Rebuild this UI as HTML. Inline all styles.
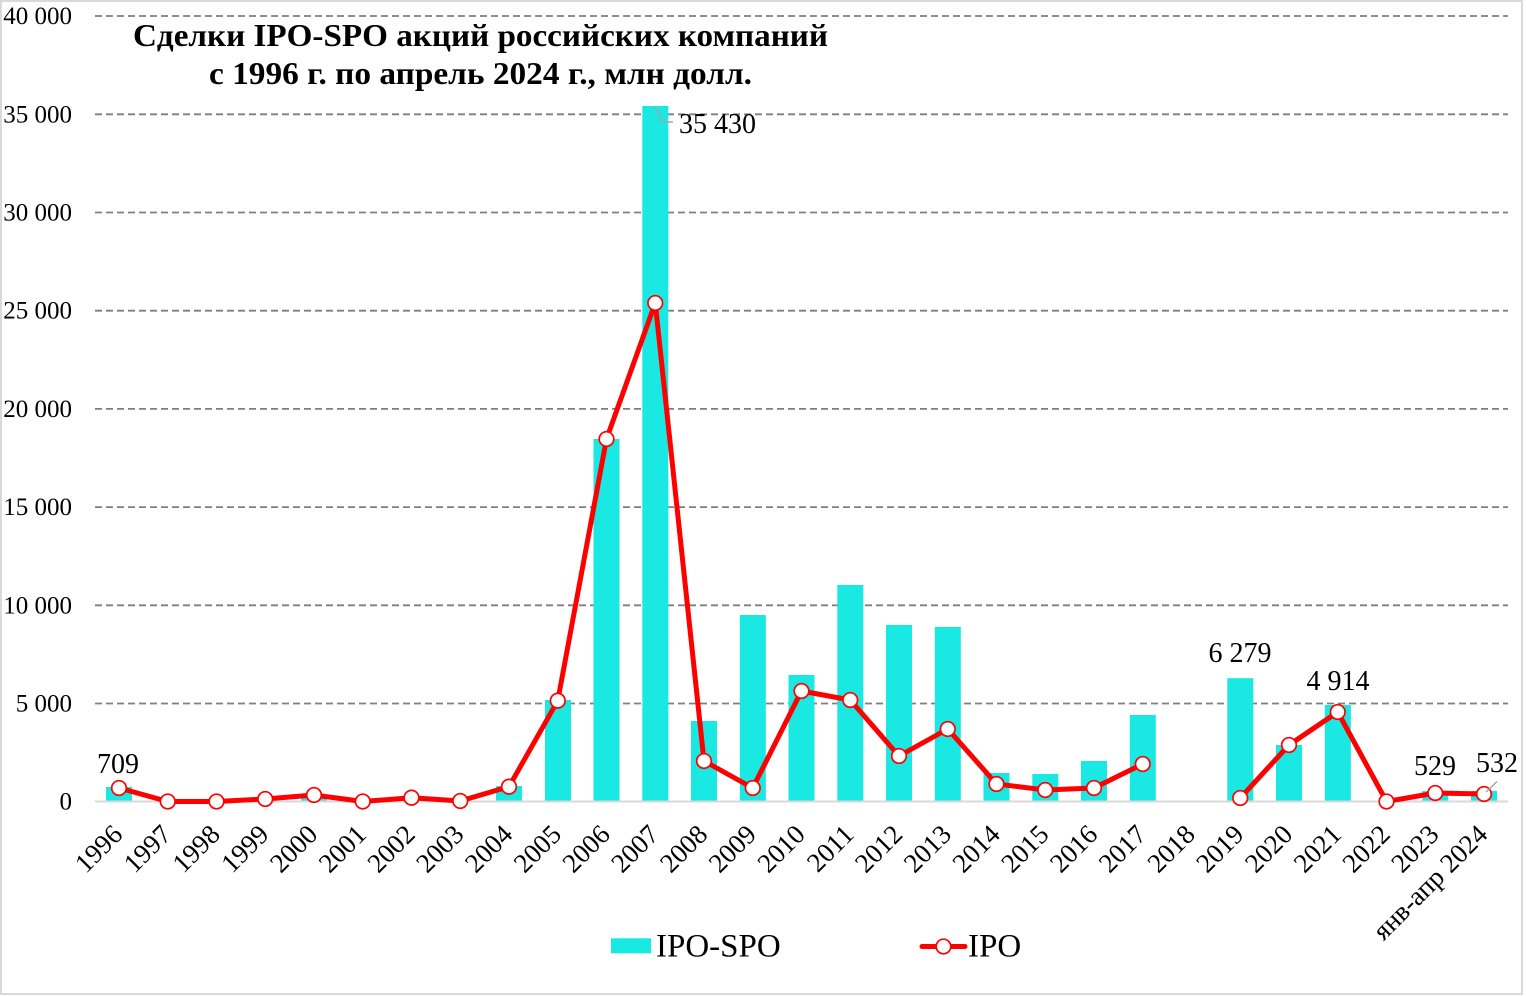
<!DOCTYPE html>
<html>
<head>
<meta charset="utf-8">
<style>
html,body{margin:0;padding:0;background:#fff;}
svg{display:block;}
text{font-family:"Liberation Serif","Noto Serif CJK SC",serif;fill:#000;}
</style>
</head>
<body>
<svg width="1526" height="996" viewBox="0 0 1526 996" xmlns="http://www.w3.org/2000/svg">
<rect x="0" y="0" width="1526" height="996" fill="#fff"/>
<rect x="1" y="1" width="1521" height="993" fill="none" stroke="#d9d9d9" stroke-width="2"/>

<!-- gridlines -->
<g stroke="#7f7f7f" stroke-width="1.8" stroke-dasharray="7 4">
<line x1="95" y1="16" x2="1508" y2="16"/>
<line x1="95" y1="114.3" x2="1508" y2="114.3"/>
<line x1="95" y1="212.5" x2="1508" y2="212.5"/>
<line x1="95" y1="310.7" x2="1508" y2="310.7"/>
<line x1="95" y1="408.9" x2="1508" y2="408.9"/>
<line x1="95" y1="507.1" x2="1508" y2="507.1"/>
<line x1="95" y1="605.3" x2="1508" y2="605.3"/>
<line x1="95" y1="703.5" x2="1508" y2="703.5"/>
</g>

<!-- y axis labels -->
<g font-size="25" text-anchor="end">
<text x="72" y="24">40 000</text>
<text x="72" y="122.3">35 000</text>
<text x="72" y="220.5">30 000</text>
<text x="72" y="318.7">25 000</text>
<text x="72" y="416.9">20 000</text>
<text x="72" y="515.1">15 000</text>
<text x="72" y="613.3">10 000</text>
<text x="72" y="711.5">5 000</text>
<text x="72" y="809.5">0</text>
</g>

<!-- bars -->
<g fill="#1ae8e2">
<rect x="106" y="787" width="26" height="14.5"/>
<rect x="301" y="795" width="26" height="6.5"/>
<rect x="496" y="786" width="26" height="15.5"/>
<rect x="545" y="700" width="26" height="101.5"/>
<rect x="593.5" y="439" width="26" height="362.5"/>
<rect x="642.3" y="106" width="26" height="695.5"/>
<rect x="691" y="721" width="26" height="80.5"/>
<rect x="739.8" y="615" width="26" height="186.5"/>
<rect x="788.5" y="675" width="26" height="126.5"/>
<rect x="837.3" y="585" width="26" height="216.5"/>
<rect x="886" y="625" width="26" height="176.5"/>
<rect x="934.8" y="627" width="26" height="174.5"/>
<rect x="983.5" y="773" width="26" height="28.5"/>
<rect x="1032.3" y="774" width="26" height="27.5"/>
<rect x="1081" y="761" width="26" height="40.5"/>
<rect x="1129.8" y="715" width="26" height="86.5"/>
<rect x="1227.3" y="678.2" width="26" height="123.3"/>
<rect x="1276" y="745" width="26" height="56.5"/>
<rect x="1324.8" y="705" width="26" height="96.5"/>
<rect x="1422.3" y="791" width="26" height="10.5"/>
<rect x="1471" y="791" width="26" height="10.5"/>
</g>

<!-- zero line -->
<line x1="95" y1="801.5" x2="1508" y2="801.5" stroke="#d9d9d9" stroke-width="2"/>

<!-- IPO line -->
<g fill="none" stroke="#ff0000" stroke-width="5" stroke-linejoin="round" stroke-linecap="round">
<polyline points="119,788 167.75,801.5 216.5,801.5 265.25,799 314,795 362.75,801.5 411.5,797.7 460.25,801 509,786.7 557.75,700.7 606.5,439 655.25,303 704,761 752.75,788 801.5,691 850.25,700 899,756 947.75,729 996.5,784 1045.25,790 1094,788 1142.75,764"/>
<polyline points="1240.25,798 1289,745 1337.75,712 1386.5,801.5 1435.25,793 1484,794"/>
</g>
<g fill="#fff" stroke="#ff0000" stroke-width="1.7">
<circle cx="119" cy="788" r="7.3"/>
<circle cx="167.75" cy="801.5" r="7.3"/>
<circle cx="216.5" cy="801.5" r="7.3"/>
<circle cx="265.25" cy="799" r="7.3"/>
<circle cx="314" cy="795" r="7.3"/>
<circle cx="362.75" cy="801.5" r="7.3"/>
<circle cx="411.5" cy="797.7" r="7.3"/>
<circle cx="460.25" cy="801" r="7.3"/>
<circle cx="509" cy="786.7" r="7.3"/>
<circle cx="557.75" cy="700.7" r="7.3"/>
<circle cx="606.5" cy="439" r="7.3"/>
<circle cx="655.25" cy="303" r="7.3"/>
<circle cx="704" cy="761" r="7.3"/>
<circle cx="752.75" cy="788" r="7.3"/>
<circle cx="801.5" cy="691" r="7.3"/>
<circle cx="850.25" cy="700" r="7.3"/>
<circle cx="899" cy="756" r="7.3"/>
<circle cx="947.75" cy="729" r="7.3"/>
<circle cx="996.5" cy="784" r="7.3"/>
<circle cx="1045.25" cy="790" r="7.3"/>
<circle cx="1094" cy="788" r="7.3"/>
<circle cx="1142.75" cy="764" r="7.3"/>
<circle cx="1240.25" cy="798" r="7.3"/>
<circle cx="1289" cy="745" r="7.3"/>
<circle cx="1337.75" cy="712" r="7.3"/>
<circle cx="1386.5" cy="801.5" r="7.3"/>
<circle cx="1435.25" cy="793" r="7.3"/>
<circle cx="1484" cy="794" r="7.3"/>
</g>

<!-- leader lines -->
<polyline points="655,107 663,122 673,122" fill="none" stroke="#a6a6a6" stroke-width="1.5"/>
<line x1="1486" y1="792" x2="1497" y2="781.5" stroke="#a6a6a6" stroke-width="1.5"/>

<!-- data labels -->
<g font-size="28">
<text x="118" y="773" text-anchor="middle">709</text>
<text x="679" y="133">35 430</text>
<text x="1240" y="662" text-anchor="middle">6 279</text>
<text x="1338" y="690" text-anchor="middle">4 914</text>
<text x="1435" y="775" text-anchor="middle">529</text>
<text x="1497" y="772" text-anchor="middle">532</text>
</g>

<!-- x labels -->
<g font-size="27" text-anchor="end">
<text transform="translate(124,836) rotate(-45)">1996</text>
<text transform="translate(172.75,836) rotate(-45)">1997</text>
<text transform="translate(221.5,836) rotate(-45)">1998</text>
<text transform="translate(270.25,836) rotate(-45)">1999</text>
<text transform="translate(319,836) rotate(-45)">2000</text>
<text transform="translate(367.75,836) rotate(-45)">2001</text>
<text transform="translate(416.5,836) rotate(-45)">2002</text>
<text transform="translate(465.25,836) rotate(-45)">2003</text>
<text transform="translate(514,836) rotate(-45)">2004</text>
<text transform="translate(562.75,836) rotate(-45)">2005</text>
<text transform="translate(611.5,836) rotate(-45)">2006</text>
<text transform="translate(660.25,836) rotate(-45)">2007</text>
<text transform="translate(709,836) rotate(-45)">2008</text>
<text transform="translate(757.75,836) rotate(-45)">2009</text>
<text transform="translate(806.5,836) rotate(-45)">2010</text>
<text transform="translate(855.25,836) rotate(-45)">2011</text>
<text transform="translate(904,836) rotate(-45)">2012</text>
<text transform="translate(952.75,836) rotate(-45)">2013</text>
<text transform="translate(1001.5,836) rotate(-45)">2014</text>
<text transform="translate(1050.25,836) rotate(-45)">2015</text>
<text transform="translate(1099,836) rotate(-45)">2016</text>
<text transform="translate(1147.75,836) rotate(-45)">2017</text>
<text transform="translate(1196.5,836) rotate(-45)">2018</text>
<text transform="translate(1245.25,836) rotate(-45)">2019</text>
<text transform="translate(1294,836) rotate(-45)">2020</text>
<text transform="translate(1342.75,836) rotate(-45)">2021</text>
<text transform="translate(1391.5,836) rotate(-45)">2022</text>
<text transform="translate(1440.25,836) rotate(-45)">2023</text>
<text transform="translate(1489,836) rotate(-45)">янв-апр 2024</text>
</g>

<!-- title -->
<g font-size="32" font-weight="bold">
<text x="133" y="46" textLength="695" lengthAdjust="spacingAndGlyphs">Сделки IPO-SPO акций российских компаний</text>
<text x="209" y="84" textLength="543" lengthAdjust="spacingAndGlyphs">с 1996 г. по апрель 2024 г., млн долл.</text>
</g>

<!-- legend -->
<rect x="611" y="938.3" width="40" height="15" fill="#1ae8e2"/>
<text x="656" y="956.7" font-size="33">IPO-SPO</text>
<line x1="922" y1="946.5" x2="965" y2="946.5" stroke="#ff0000" stroke-width="5" stroke-linecap="round"/>
<circle cx="943.5" cy="946.5" r="7.3" fill="#fff" stroke="#ff0000" stroke-width="1.7"/>
<text x="968" y="956.7" font-size="33">IPO</text>
</svg>
</body>
</html>
